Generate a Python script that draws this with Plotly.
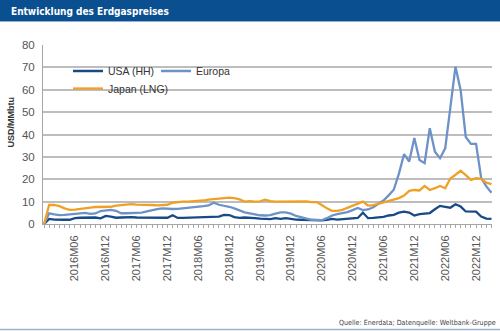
import plotly.graph_objects as go

# ---------------- data ----------------
START_YEAR, START_MONTH = 2015, 12
N = 88
MONTHS = []
y, m = START_YEAR, START_MONTH
for _ in range(N):
    MONTHS.append(f"{y}M{m:02d}")
    m += 1
    if m > 12:
        m = 1
        y += 1

TICK_LABELS = ["2016M06", "2016M12", "2017M06", "2017M12", "2018M06", "2018M12",
               "2019M06", "2019M12", "2020M06", "2020M12", "2021M06", "2021M12",
               "2022M06", "2022M12"]

USA = [0, 2.3, 2.0, 1.8, 1.9, 1.9, 2.6, 2.8, 2.8, 2.9, 2.9, 2.5, 3.6, 3.3, 2.8, 2.9,
       3.1, 3.1, 2.9, 2.9, 2.9, 2.9, 2.9, 3.0, 2.8, 3.9, 2.7, 2.7, 2.8, 2.8, 2.9, 2.8,
       2.9, 3.0, 3.3, 4.1, 4.0, 3.1, 2.7, 2.9, 2.6, 2.6, 2.4, 2.4, 2.2, 2.6, 2.3, 2.6,
       2.2, 2.0, 1.9, 1.8, 1.7, 1.7, 1.6, 1.8, 2.3, 2.0, 2.2, 2.6, 2.6, 2.7, 5.1, 2.6,
       2.7, 2.9, 3.2, 3.8, 4.1, 5.1, 5.5, 5.1, 3.8, 4.4, 4.7, 4.9, 6.6, 8.1, 7.7, 7.3,
       8.8, 7.8, 5.6, 5.5, 5.5, 3.3, 2.4, 2.3]

EUROPA = [0, 4.8, 4.3, 4.0, 4.1, 4.3, 4.5, 5.0, 5.0, 4.5, 4.7, 5.8, 6.1, 6.3, 5.9, 4.8,
          4.8, 4.9, 4.9, 5.1, 5.6, 6.3, 6.7, 7.0, 6.8, 6.7, 6.8, 7.0, 7.1, 7.3, 7.7, 8.0,
          8.3, 9.5, 8.6, 8.2, 7.7, 7.0, 6.0, 5.2, 4.8, 4.2, 3.9, 3.8, 4.0, 4.6, 5.2, 5.2,
          4.6, 3.6, 3.1, 2.5, 1.9, 1.8, 1.7, 2.6, 3.8, 4.4, 4.9, 5.3, 6.2, 7.2, 6.2, 6.5,
          7.5, 9.0, 10.5, 12.8, 15.3, 22.5, 31.2, 27.9, 38.4, 28.6, 27.2, 42.8, 32.3, 29.4,
          33.8, 52.0, 70.3, 59.8, 38.9, 35.8, 35.8, 20.5, 16.8, 14.0]

JAPAN = [0, 8.5, 8.5, 8.0, 7.0, 6.3, 6.4, 6.8, 7.0, 7.3, 7.6, 7.7, 7.6, 7.7, 8.2, 8.4,
         8.6, 8.9, 8.7, 8.7, 8.7, 8.5, 8.3, 8.4, 8.6, 9.5, 9.8, 10.0, 10.0, 10.1, 10.3, 10.5,
         10.9, 11.2, 11.5, 11.7, 11.8, 11.6, 11.0, 10.0, 10.2, 10.0, 10.1, 10.9, 10.2, 10.0,
         10.0, 10.0, 10.0, 10.2, 10.2, 10.1, 9.8, 9.8, 8.5, 7.0, 5.9, 5.9, 6.3, 7.2, 8.3, 9.3,
         10.0, 8.2, 8.4, 9.0, 9.7, 10.2, 10.9, 11.6, 12.7, 14.8, 15.2, 15.0, 17.0, 15.2, 16.0,
         17.0, 16.0, 20.3, 22.0, 23.8, 21.8, 19.7, 20.5, 20.2, 18.5, 17.8]

SERIES = [("USA (HH)", USA, "#184a86", "legend"),
          ("Europa", EUROPA, "#6d92c8", "legend"),
          ("Japan (LNG)", JAPAN, "#eea126", "legend2")]

# ---------------- layout geometry ----------------
W, H = 500, 331
L, R, T, B = 43, 492, 45, 224  # plot area in pixels


def px_x(x):
    return (x - L) / (R - L)


def px_y(yp):
    return (B - yp) / (B - T)


xs = list(range(N))
tickvals = [MONTHS.index(t) for t in TICK_LABELS]

fig = go.Figure()
for name, vals, color, leg in SERIES:
    fig.add_trace(go.Scatter(x=xs, y=vals, mode="lines", name=name,
                             line=dict(color=color, width=2.3), legend=leg))

font_main = "Liberation Sans, Arial, sans-serif"
narrow = "Liberation Sans Narrow, DejaVu Sans Condensed, Arial Narrow, sans-serif"

fig.update_layout(
    width=W, height=H,
    margin=dict(l=L, r=W - R, t=T, b=H - B, pad=0),
    paper_bgcolor="white", plot_bgcolor="white",
    font=dict(family=font_main, size=11, color="#555"),
    legend=dict(orientation="h", x=px_x(68), xanchor="left", y=px_y(71), yanchor="middle",
                bgcolor="rgba(0,0,0,0)", font=dict(size=10.5, color="#333"),
                entrywidth=43, entrywidthmode="pixels", traceorder="normal",
                itemclick=False),
    legend2=dict(orientation="h", x=px_x(68), xanchor="left", y=px_y(88.5), yanchor="middle",
                 bgcolor="rgba(0,0,0,0)", font=dict(size=10.5, color="#333"),
                 itemclick=False),
    xaxis=dict(range=[-0.2, N - 1 + 0.1], tickmode="array", tickvals=tickvals,
               ticktext=TICK_LABELS, tickangle=-90, showgrid=False,
               showline=True, linecolor="#a6a6a6", linewidth=1,
               ticks="outside", ticklen=3, tickcolor="#a6a6a6",
               minor=dict(dtick=1, ticks="outside", ticklen=3, tickcolor="#a6a6a6", showgrid=False),
               tickfont=dict(size=11, color="#555"), zeroline=False, ticklabelstandoff=3),
    yaxis=dict(range=[0, 80], dtick=10, showgrid=True, gridcolor="#bdbdbd", gridwidth=1.5,
               showline=True, linecolor="#a6a6a6", linewidth=1, zeroline=False,
               ticks="", tickfont=dict(size=11.5, color="#555"), ticklabelstandoff=5),
)

shapes = [
    # title banner
    dict(type="rect", xref="paper", yref="paper", x0=px_x(0), x1=px_x(W), y0=px_y(21), y1=px_y(0),
         fillcolor="#0a4f90", line=dict(width=0), layer="above"),
    dict(type="line", xref="paper", yref="paper", x0=px_x(0), x1=px_x(W), y0=px_y(21.5), y1=px_y(21.5),
         line=dict(color="#8fb0d4", width=1)),
    # bottom rule
    dict(type="line", xref="paper", yref="paper", x0=px_x(0), x1=px_x(W), y0=px_y(329.5), y1=px_y(329.5),
         line=dict(color="#9db3c9", width=1.5)),
    # legend background hiding gridlines
    dict(type="rect", xref="paper", yref="paper", x0=px_x(70), x1=px_x(228), y0=px_y(98), y1=px_y(60),
         fillcolor="white", line=dict(width=0), layer="between"),
]
fig.update_layout(shapes=shapes)

fig.add_annotation(text="<b>Entwicklung des Erdgaspreises</b>", xref="paper", yref="paper",
                   x=px_x(9), y=px_y(11), xanchor="left", yanchor="middle", showarrow=False,
                   font=dict(family=narrow, size=10, color="white"))
fig.add_annotation(text="<b>USD/MMbtu</b>", xref="paper", yref="paper",
                   x=px_x(11), y=px_y(122.5), xanchor="center", yanchor="middle", textangle=-90,
                   showarrow=False, font=dict(family=font_main, size=9, color="#333"))
fig.add_annotation(text="Quelle: Enerdata; Datenquelle: Weltbank-Gruppe", xref="paper", yref="paper",
                   x=px_x(498), y=px_y(322), xanchor="right", yanchor="middle", showarrow=False,
                   font=dict(family=narrow, size=7.1, color="#444"))

fig.write_html("out.html")
